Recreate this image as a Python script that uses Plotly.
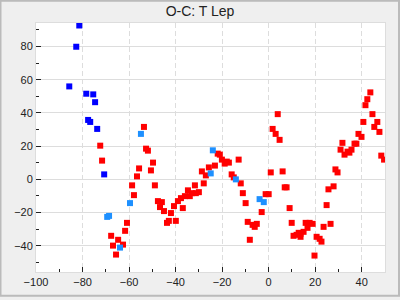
import plotly.graph_objects as go

red_x = [-72.4, -71.6, -53.6, -52.7, -51.9, -49.7, -55.7, -50.6, -56.6, -58.7, -48.9, -57.9,
         -60.9, -61.7, -67.7, -64.7, -66.9, -62.6, -65.6, -47.6, -45.9, -46.7, -45.0, -40.7,
         -39.0, -37.7, -42.0, -42.9, -43.7, -39.9, -36.9, -36.0, -33.9, -34.7, -33.0, -31.7,
         -31.3, -30.0, -28.7, -27.9, -27.0, -25.7, -23.1, -21.9, -21.0, -20.1, -18.9, -18.0,
         -17.1, -12.9, -15.9, -15.0, -12.0, -11.1, -9.9, -9.0, -6.9, -6.0, -5.1, -8.1,
         -3.0, -1.3, 0.0, 0.9, 6.0, 6.9, 7.7, 9.0, 9.9, 10.7, 12.0, 12.9, 13.7, 13.7,
         15.0, 15.9, 16.7, 17.6, 18.9, 19.7, 20.6, 21.9, 22.7, 23.6, 26.6, 24.9, 25.7,
         27.9, 28.7, 29.6, 30.9, 32.6, 33.9, 34.7, 35.6, 31.7, 36.9, 37.7, 38.6, 39.9,
         40.7, 41.6, 42.4, 43.7, 44.6, 46.7, 45.4, 47.6, 48.4, 49.6, 3.9, 1.7, 3.0, 4.7]
red_y = [20.3, 11.3, 31.6, 18.5, 17.3, 10.1, 6.6, 5.4, 1.8, -3.6, -3.6, -9.5,
         -26.2, -31.0, -34.0, -36.4, -39.9, -39.3, -45.3, -13.1, -13.7, -16.7, -19.1, -16.1,
         -13.1, -11.3, -20.3, -25.0, -26.2, -25.0, -17.3, -10.1, -10.1, -6.6, -8.3, -3.6,
         -8.3, -7.7, 4.8, -2.4, 2.4, 7.2, 8.3, 15.5, 14.9, 11.9, 9.5, 10.7,
         10.1, 11.9, 3.0, 1.2, -2.4, -8.3, -14.3, -25.6, -27.4, -28.6, -26.8, -36.4,
         -19.7, -8.9, -8.9, 4.2, 4.8, -4.8, -4.8, -17.3, -26.2, -34.0, -33.4, -32.2, -32.8, -34.6,
         -31.6, -26.2, -29.2, -26.2, -26.8, -45.9, -34.6, -35.8, -37.5, -28.6, -26.8, -15.5, -6.0,
         -4.2, 6.0, 4.2, 17.9, 14.9, 16.7, 16.1, 17.9, 22.0, 21.5, 21.5, 27.4, 25.6,
         34.6, 44.7, 48.3, 52.4, 39.3, 34.6, 31.6, 28.6, 14.3, 11.9, 39.3, 30.4, 27.4, 23.8]

lblue_x = [-54.9, -59.6, -69.4, -68.6, -63.9, -24.0, -24.9, -14.1, -3.9, -2.1]
lblue_y = [27.4, -14.3, -22.6, -22.0, -41.1, 17.5, 3.6, 0.0, -11.9, -13.7]

blue_x = [-81.4, -82.7, -85.7, -78.4, -75.4, -74.6, -77.6, -76.7, -73.7, -70.7]
blue_y = [92.7, 79.9, 56.0, 51.6, 51.2, 46.5, 35.8, 34.6, 30.4, 3.0]

fig = go.Figure()
for xs, ys, col in [(red_x, red_y, "#ff0000"), (lblue_x, lblue_y, "#1e90ff"), (blue_x, blue_y, "#0000ff")]:
    fig.add_trace(go.Scatter(x=xs, y=ys, mode="markers",
                             marker=dict(symbol="square", size=6, color=col, line=dict(width=0)),
                             showlegend=False, hoverinfo="skip"))

axis_common = dict(showline=True, mirror=True, linecolor="#dddddd", linewidth=1,
                   gridcolor="#dddddd", gridwidth=1, zeroline=False,
                   ticks="inside", ticklen=5, tickcolor="#222222", tickwidth=1,
                   tickfont=dict(family="Liberation Sans, Arial", size=11, color="#222222"))

fig.update_xaxes(range=[-100, 50], dtick=20, tick0=0, griddash="5px,3px",
                 minor=dict(dtick=10, ticks="inside", ticklen=3, tickcolor="#222222", showgrid=False),
                 **axis_common)
fig.update_yaxes(range=[-55.8, 94.2], dtick=20, tick0=0,
                 minor=dict(dtick=10, ticks="inside", ticklen=3, tickcolor="#222222", showgrid=False),
                 **axis_common)

W, H = 349, 252
fig.add_shape(type="rect", xref="paper", yref="paper",
              x0=-36 / W + 0.5 / W, x1=1 + 15 / W - 1 / W, y0=-25 / H + 1 / H, y1=1 + 23 / H - 0.5 / H,
              line=dict(color="#bbbbbb", width=2), fillcolor="rgba(0,0,0,0)", layer="below")

fig.update_layout(
    width=400, height=300,
    margin=dict(l=36, r=15, t=23, b=25),
    paper_bgcolor="#efefef", plot_bgcolor="#ffffff",
    title=dict(text="O-C: T Lep", x=0.5, xanchor="center", y=1 - 11 / 300, yanchor="middle",
               font=dict(family="Liberation Sans, Arial", size=14, color="#222222")),
)

fig.write_html("out.html")
